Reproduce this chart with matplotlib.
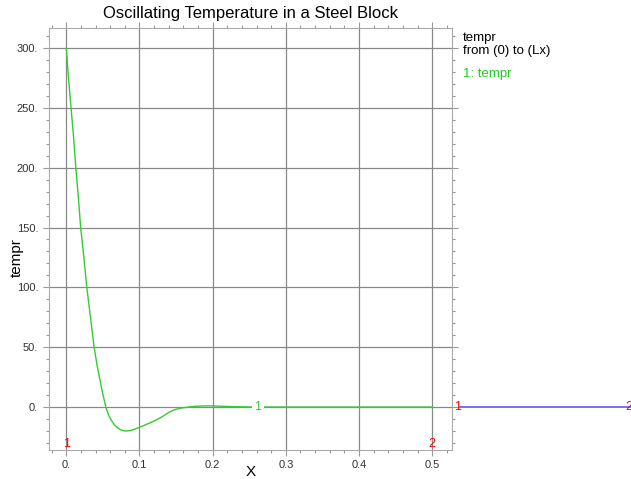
import matplotlib
matplotlib.use("Agg")
import matplotlib.pyplot as plt
from matplotlib.ticker import MultipleLocator, FuncFormatter

plt.rcParams['font.family'] = ['Liberation Sans', 'DejaVu Sans']

# temperature profile
pos_x = [0, 0.003, 0.0065, 0.01, 0.013, 0.0165, 0.0196, 0.024, 0.028, 0.033,
         0.038, 0.042, 0.046, 0.0497, 0.054, 0.058, 0.062, 0.066, 0.07, 0.074,
         0.078, 0.082, 0.087, 0.093, 0.1, 0.106, 0.112,
         0.118, 0.1235, 0.13, 0.135, 0.14, 0.146, 0.155, 0.164, 0.175, 0.19,
         0.2, 0.21, 0.23, 0.25, 0.3, 0.4, 0.5]
tempr = [300, 275, 250, 225, 200, 175, 150, 125, 100, 75,
         50, 35, 22.6, 11.4, 0, -7, -11.5, -15, -17.3, -18.9,
         -19.7, -20, -19.7, -18.6, -16.9, -15.4, -13.8,
         -12.2, -10.6, -8.4, -6.5, -4.5, -2.6, -1, -0.3, 0.6, 1,
         1, 0.7, 0.3, 0.1, 0, 0, 0]
# second (blue) path drawn past the right edge of the frame
path2_x = [0.538, 0.772]
path2_y = [0, 0]
x_ticks = [0, 0.1, 0.2, 0.3, 0.4, 0.5]
y_ticks = [0, 50, 100, 150, 200, 250, 300]


def tick_fmt(v, p):
    v = round(v, 6)
    if v == int(v):
        return '%d.' % int(v)
    return '%g' % v


fig = plt.figure(figsize=(6.31, 4.79), dpi=100)
ax = fig.add_axes([0.0769, 0.0605, 0.6394, 0.881])

ax.set_xlim(-0.0243, 0.527)
ax.set_ylim(-35.9, 316.7)

ax.plot(pos_x, tempr, color='#33cc33', lw=1.0, zorder=3)
ax.text(0.262, 0, '1', color='#33cc33', fontsize=9, ha='center', va='center',
        bbox=dict(facecolor='white', edgecolor='none', pad=1.5), zorder=4)

ax.plot(path2_x, path2_y, color='#6666ff', lw=1.3, clip_on=False, zorder=3)
ax.text(path2_x[0] - 0.003, 0, '1', color='red', fontsize=9, ha='center',
        va='center', clip_on=False, zorder=4)
ax.text(path2_x[1] - 0.004, 0, '2', color='red', fontsize=9, ha='center',
        va='center', clip_on=False, zorder=4)

ax.text(0, -31, '1', color='red', fontsize=9, ha='center', va='center')
ax.text(0.5, -31, '2', color='red', fontsize=9, ha='center', va='center')

ax.set_xticks(x_ticks)
ax.set_yticks(y_ticks)
ax.xaxis.set_minor_locator(MultipleLocator(0.02))
ax.yaxis.set_minor_locator(MultipleLocator(10))
ax.xaxis.set_major_formatter(FuncFormatter(tick_fmt))
ax.yaxis.set_major_formatter(FuncFormatter(tick_fmt))
ax.tick_params(which='both', direction='out', top=True, right=True,
               colors='#999999', labelcolor='#333333', labelsize=8)
ax.tick_params(which='major', length=4, width=0.8)
ax.tick_params(which='minor', length=2.5, width=0.8)
ax.grid(True, which='major', color='#888888', lw=0.9)
for s in ax.spines.values():
    s.set_color('#aaaaaa')

ax.set_title('Oscillating Temperature in a Steel Block', fontsize=12, pad=7)
ax.set_xlabel('X', fontsize=11)
ax.set_ylabel('tempr', fontsize=11)
ax.xaxis.set_label_coords(0.5, -0.036)
ax.yaxis.set_label_coords(-0.061, 0.457)

fig.text(0.733, 0.921, 'tempr', fontsize=9.5, va='center')
fig.text(0.733, 0.893, 'from (0) to (Lx)', fontsize=9.5, va='center')
fig.text(0.733, 0.845, '1: tempr', fontsize=9.5, va='center', color='#22cc22')

fig.savefig('out.png', dpi=100)
